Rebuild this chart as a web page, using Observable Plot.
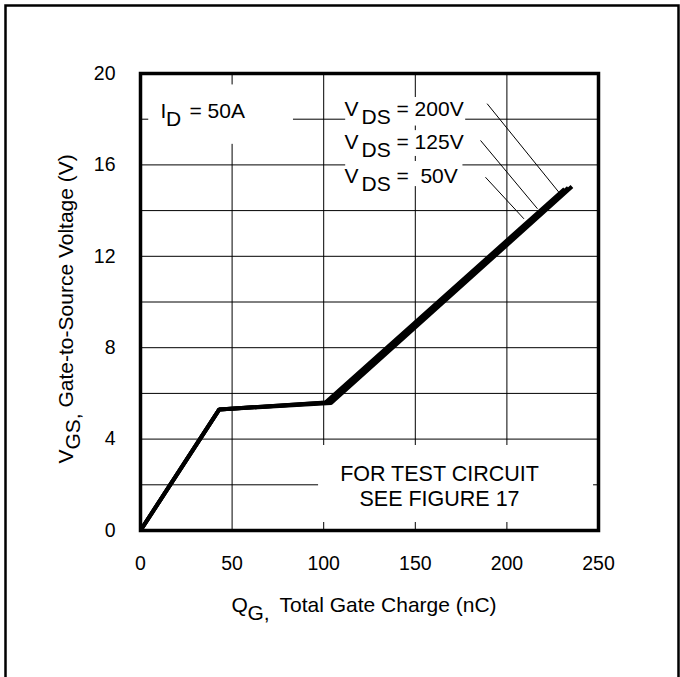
<!DOCTYPE html>
<html>
<head>
<meta charset="utf-8">
<script src="https://cdn.jsdelivr.net/npm/d3@7"></script>
<script src="https://cdn.jsdelivr.net/npm/@observablehq/plot@0.6"></script>
<style>
  body { margin: 0; background: #fff; }
</style>
</head>
<body>
<div id="chart"></div>
<script>
// Gate charge characteristic: V_GS versus total gate charge Q_G at I_D = 50 A,
// one curve for each drain-source voltage.
const drainVoltages = ["50V", "125V", "200V"];

const qg50 = [0, 43, 101, 231.5];
const vgs50 = [0, 5.3, 5.6, 14.95];

const qg125 = [0, 43, 102.5, 233.5];
const vgs125 = [0, 5.3, 5.6, 15.0];

const qg200 = [0, 43, 104, 235.5];
const vgs200 = [0, 5.3, 5.58, 15.05];

const xTicks = [0, 50, 100, 150, 200, 250];
const yTicks = [0, 4, 8, 12, 16, 20];
const xGrid = [50, 100, 150, 200];
const yGrid = [2, 4, 6, 8, 10, 12, 14, 16, 18];

// long-format table for the line mark
const curves = [[qg50, vgs50], [qg125, vgs125], [qg200, vgs200]].flatMap(([q, v], i) =>
  q.map((qi, j) => ({vds: drainVoltages[i], q: qi, v: v[j]}))
);

// white panels behind the annotations (in chart units)
const labelBackgrounds = [
  {x1: 4.5, x2: 83.5, y1: 16.9, y2: 19.5},
  {x1: 112, x2: 177.5, y1: 17.7, y2: 18.95},
  {x1: 112, x2: 176.5, y1: 16.37, y2: 17.5},
  {x1: 112, x2: 176, y1: 15.05, y2: 16.15},
  {x1: 97.2, x2: 247.3, y1: 0.35, y2: 3.72}
];

// leader lines from each V_DS label to its curve
const leaders = [
  {vds: "200V", q1: 189.2, v1: 18.68, q2: 228.3, v2: 14.81},
  {vds: "125V", q1: 185.6, v1: 17.07, q2: 216.7, v2: 14.08},
  {vds: "50V", q1: 188.3, v1: 15.46, q2: 209.3, v2: 13.64}
];

const txt = (s, o) => Plot.text([s], {text: d => d, textAnchor: "start", lineAnchor: "bottom", fontSize: 21, ...o});

// V_DS labels, top to bottom
const rowLabels = [...drainVoltages].reverse();
const rowMarks = rowLabels.flatMap((v, i) => [
  txt("V", {frameAnchor: "top-left", dx: 204, dy: 42 + i * 33.5}),
  txt("DS", {frameAnchor: "top-left", dx: 221, dy: 50 + i * 33.5}),
  txt(v.length < 4 ? "=\u00a0\u00a0" + v : "= " + v, {frameAnchor: "top-left", dx: 256, dy: 42 + i * 33.5})
]);

const chart = Plot.plot({
  width: 680,
  height: 677,
  marginLeft: 140,
  marginRight: 82,
  marginTop: 73,
  marginBottom: 147,
  style: {fontFamily: "'Liberation Sans', Arial, Helvetica, sans-serif", fontSize: "19.5px", color: "#000", background: "#fff"},
  x: {domain: [0, 250], ticks: xTicks, tickSize: 0, tickPadding: 26, label: null},
  y: {domain: [0, 20], ticks: yTicks, tickSize: 0, tickPadding: 25, label: null},
  marks: [
    Plot.ruleX(xGrid, {stroke: "#000", strokeWidth: 1}),
    Plot.ruleY(yGrid, {stroke: "#000", strokeWidth: 1}),
    Plot.rect(labelBackgrounds, {x1: "x1", x2: "x2", y1: "y1", y2: "y2", fill: "white"}),
    Plot.frame({stroke: "#000", strokeWidth: 3.5}),
    Plot.line(curves, {x: "q", y: "v", z: "vds", stroke: "#000", strokeWidth: 4, strokeLinecap: "butt", strokeLinejoin: "miter"}),
    Plot.link(leaders, {x1: "q1", y1: "v1", x2: "q2", y2: "v2", stroke: "#000", strokeWidth: 1}),

    // I_D = 50A
    txt("I", {frameAnchor: "top-left", dx: 20, dy: 44}),
    txt("D", {frameAnchor: "top-left", dx: 25.5, dy: 52}),
    txt("= 50A", {frameAnchor: "top-left", dx: 49, dy: 44}),

    ...rowMarks,

    // test circuit note
    Plot.text(["FOR TEST CIRCUIT\nSEE FIGURE 17"], {text: d => d, frameAnchor: "bottom-left", dx: 299, dy: -25,
      textAnchor: "middle", lineAnchor: "bottom", lineHeight: 1.163, fontSize: 21.5}),

    // x axis title: Q_G, Total Gate Charge (nC)
    txt("Q", {frameAnchor: "bottom-left", dx: 91, dy: 81}),
    txt("G,", {frameAnchor: "bottom-left", dx: 107, dy: 89}),
    txt("Total Gate Charge (nC)", {frameAnchor: "bottom-left", dx: 139, dy: 81}),

    // y axis title: V_GS, Gate-to-Source Voltage (V)
    txt("V", {frameAnchor: "top-left", dx: -68, dy: 390, rotate: -90}),
    txt("GS,", {frameAnchor: "top-left", dx: -61, dy: 376, rotate: -90}),
    txt("Gate-to-Source Voltage (V)", {frameAnchor: "top-left", dx: -68, dy: 334, rotate: -90})
  ]
});

// page border around the whole figure
d3.select(chart).append("rect")
  .attr("x", 5.5).attr("y", 5.5).attr("width", 673).attr("height", 700)
  .attr("fill", "none").attr("stroke", "#000").attr("stroke-width", 2.5);

document.getElementById("chart").appendChild(chart);
</script>
</body>
</html>
